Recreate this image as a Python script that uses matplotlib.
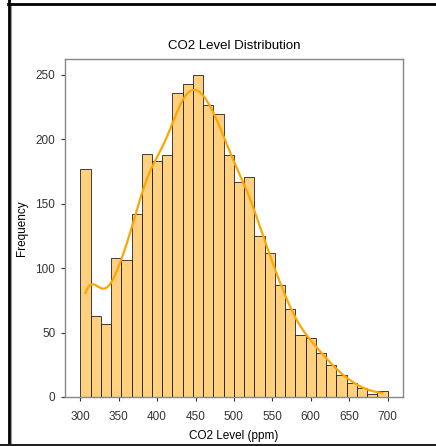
import matplotlib
matplotlib.use("Agg")
import matplotlib.pyplot as plt
from matplotlib.lines import Line2D
import numpy as np
import pandas as pd
import seaborn as sns

# CO2 readings binned into 30 equal bins between 300 and 700 ppm
bin_start = 300
bin_stop = 700
n_bins = 30
counts = [177, 63, 57, 108, 106, 142, 189, 183, 188, 236,
          243, 250, 227, 220, 188, 167, 171, 125, 112, 87,
          68, 48, 46, 34, 25, 17, 11, 7, 2, 5]

x_ticks = [300, 350, 400, 450, 500, 550, 600, 650, 700]
y_ticks = [0, 50, 100, 150, 200, 250]

plt.rcParams["font.family"] = ["Liberation Sans", "DejaVu Sans"]

edges = np.linspace(bin_start, bin_stop, n_bins + 1)
centers = (edges[:-1] + edges[1:]) / 2
df = pd.DataFrame({"co2": centers, "n": counts})

fig = plt.figure(figsize=(4.36, 4.46), dpi=100)
ax = fig.add_axes([0.149, 0.110, 0.775, 0.758])

# weighted bin centres give a wide bandwidth, so tighten it
sns.histplot(data=df, x="co2", weights="n", bins=n_bins,
             binrange=(bin_start, bin_stop), kde=True,
             kde_kws={"bw_adjust": 0.36},
             color="orange", edgecolor="#222222", linewidth=0.6, ax=ax)
ax.lines[0].set_linewidth(1.6)

ax.set_title("CO2 Level Distribution", fontsize=9.5, pad=7)
ax.set_xlabel("CO2 Level (ppm)", fontsize=8.5, labelpad=5)
ax.set_ylabel("Frequency", fontsize=8.5)
ax.yaxis.set_label_coords(-0.11, 0.5)
ax.set_xticks(x_ticks)
ax.set_yticks(y_ticks)
ax.tick_params(labelsize=8.5, length=3, width=0.8, colors="#333333")
ax.tick_params(axis="y", pad=4)
ax.tick_params(axis="x", pad=7)
for spine in ax.spines.values():
    spine.set_color("#888888")
    spine.set_linewidth(1.0)

# screenshot frame on the left, top and bottom edges
fig.add_artist(Line2D([8.5 / 436, 8.5 / 436], [0, 1], transform=fig.transFigure,
                      color="black", linewidth=2))
fig.add_artist(Line2D([10.5 / 436, 10.5 / 436], [0, 1 - 5 / 446], transform=fig.transFigure,
                      color="#999999", linewidth=0.8))
fig.add_artist(Line2D([8 / 436, 1], [1 - 4 / 446, 1 - 4 / 446], transform=fig.transFigure,
                      color="black", linewidth=2))
fig.add_artist(Line2D([0, 1], [1.5 / 446, 1.5 / 446], transform=fig.transFigure,
                      color="#222222", linewidth=2.2))

fig.savefig("out.png", dpi=100)
